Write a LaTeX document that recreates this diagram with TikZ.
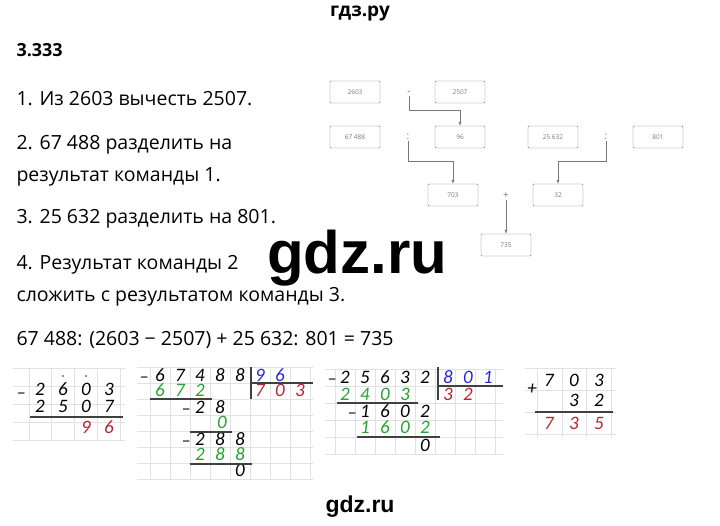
\documentclass[tikz,border=0pt]{standalone}
\usepackage{fontspec}
\setmainfont{Open Sans}
\newfontfamily\digfont{Carlito}
\newfontfamily\wmfont{Liberation Sans}
\usetikzlibrary{positioning,arrows.meta}

\definecolor{boxgray}{RGB}{120,120,120}
\definecolor{gridgray}{RGB}{225,225,225}
\definecolor{dgreen}{RGB}{40,160,50}
\definecolor{dred}{RGB}{185,35,50}
\definecolor{dblue}{RGB}{40,40,210}

\tikzset{
    txt/.style={anchor=base west, font=\fontsize{19.5}{22}\selectfont},
    box/.style={draw=boxgray, rounded corners=1pt, minimum width=50pt, minimum height=22pt,
        text=boxgray, font=\fontsize{6.5}{7}\selectfont},
    op/.style={text=boxgray, font=\fontsize{10}{10}\selectfont, inner sep=1pt},
    arr/.style={draw=boxgray, -{Latex[length=4pt,width=3pt]}},
    dig/.style={font=\digfont\itshape\fontsize{19}{20}\selectfont, inner sep=0pt},
    rule/.style={line width=1.3pt, black!75},
}

\begin{document}
\begin{tikzpicture}[x=1pt,y=-1pt]
    \useasboundingbox (0,0) rectangle (720,525);

    % headings and text
    \node[font=\bfseries\fontsize{19}{22}\selectfont] (title) at (360,13) {гдз.ру};
    \node[txt, font=\bfseries\fontsize{18}{20}\selectfont] (num) at (13,56) {3.333};
    \node[txt] (t1) at (13,105) {1. Из 2603 вычесть 2507.};
    \node[txt] (t2) at (13,149) {2. 67 488 разделить на};
    \node[txt] (t2b) at (13,181) {результат команды 1.};
    \node[txt] (t3) at (13,223) {3. 25 632 разделить на 801.};
    \node[txt] (t4) at (13,269) {4. Результат команды 2};
    \node[txt] (t4b) at (13,301) {сложить с результатом команды 3.};
    \node[txt] (eq) at (13,345) {67 488: (2603 − 2507) + 25 632: 801 = 735};

    % scheme
    \node[box] (a) at (355,92) {2603};
    \node[box] (b) at (460,92) {2507};
    \node[op] (minus) at (409,93) {-};
    \node[box] (c) at (355,137) {67 488};
    \node[op] (div1) at (408,137) {:};
    \node[box] (d) at (460,137) {96};
    \node[box] (e) at (553,137) {25 632};
    \node[op] (div2) at (606,137) {:};
    \node[box] (f) at (658,137) {801};
    \node[box] (g) at (453,195) {703};
    \node[op] (plus) at (506,196) {+};
    \node[box] (h) at (558,195) {32};
    \node[box] (k) at (506,245) {735};
    \draw[arr] (minus.south) -- ++(0,14) -| (d.north);
    \draw[arr] (div1.south) -- ++(0,20) -| (g.north);
    \draw[arr] (div2.south) -- ++(0,20) -| (h.north);
    \draw[arr] (plus.south) -- (k.north);

    % watermarks
    \node[font=\wmfont\bfseries\fontsize{60}{62}\selectfont] (wm) at (357,258) {gdz.ru};
    \node[font=\wmfont\bfseries\fontsize{23}{25}\selectfont] (wm2) at (360,507) {gdz.ru};

    % 2603 - 2507
    \foreach \yy in {368,386,404,422,440} \draw[gridgray] (13,\yy) -- (125,\yy);
    \foreach \xx in {29,51,74,97,120} \draw[gridgray] (\xx,368) -- (\xx,440);
    \foreach \d [count=\i from 0] in {2,6,0,3} \node[dig] at (40+23*\i,389) {\d};
    \foreach \d [count=\i from 0] in {2,5,0,7} \node[dig] at (40+23*\i,406) {\d};
    \foreach \d [count=\i from 2] in {9,6} \node[dig, text=dred] at (40+23*\i,427) {\d};
    \fill[dgreen] (63,376) circle (1.1) (86,376) circle (1.1);
    \node[dig] at (22,393) {\_};
    \draw[rule] (30,417) -- (123,417);

    % 67488 : 96
    \foreach \yy in {367,383,399,415,431,447,463,479} \draw[gridgray] (137,\yy) -- (313,\yy);
    \foreach \xx in {150,170,190,210,230,250,270,290,310} \draw[gridgray] (\xx,367) -- (\xx,479);
    \foreach \d [count=\i from 0] in {6,7,4,8,8} \node[dig] at (160+20*\i,375) {\d};
    \foreach \d [count=\i from 5] in {9,6} \node[dig, text=dblue] at (160+20*\i,375) {\d};
    \foreach \d [count=\i from 0] in {6,7,2} \node[dig, text=dgreen] at (160+20*\i,390) {\d};
    \foreach \d [count=\i from 5] in {7,0,3} \node[dig, text=dred] at (160+20*\i,390) {\d};
    \foreach \d [count=\i from 2] in {2,8} \node[dig] at (160+20*\i,407) {\d};
    \node[dig, text=dgreen] at (222,422) {0};
    \foreach \d [count=\i from 2] in {2,8,8} \node[dig] at (160+20*\i,439) {\d};
    \foreach \d [count=\i from 2] in {2,8,8} \node[dig, text=dgreen] at (160+20*\i,454) {\d};
    \node[dig] at (240,470) {0};
    \node[dig] at (145,377) {\_};
    \node[dig] at (187,409) {\_};
    \node[dig] at (187,441) {\_};
    \draw[rule] (150,399) -- (212,399);
    \draw[rule] (190,432) -- (232,432);
    \draw[rule] (190,464) -- (252,464);
    \draw[rule] (251,367) -- (251,399);
    \draw[rule] (251,383) -- (313,383);

    % 25632 : 801
    \foreach \yy in {369,386,403,420,437,454} \draw[gridgray] (325,\yy) -- (503,\yy);
    \foreach \xx in {335,355,375,395,415,435,455,475,495} \draw[gridgray] (\xx,369) -- (\xx,454);
    \foreach \d [count=\i from 0] in {2,5,6,3,2} \node[dig] at (345+20*\i,377) {\d};
    \foreach \d [count=\i from 0] in {8,0,1} \node[dig, text=dblue] at (448+20*\i,377) {\d};
    \foreach \d [count=\i from 0] in {2,4,0,3} \node[dig, text=dgreen] at (345+20*\i,394) {\d};
    \foreach \d [count=\i from 0] in {3,2} \node[dig, text=dred] at (448+20*\i,394) {\d};
    \foreach \d [count=\i from 1] in {1,6,0,2} \node[dig] at (345+20*\i,411) {\d};
    \foreach \d [count=\i from 1] in {1,6,0,2} \node[dig, text=dgreen] at (345+20*\i,427) {\d};
    \node[dig] at (425,445) {0};
    \node[dig] at (333,379) {\_};
    \node[dig] at (353,413) {\_};
    \draw[rule] (337,403) -- (418,403);
    \draw[rule] (357,437) -- (440,437);
    \draw[rule] (438,367) -- (438,400);
    \draw[rule] (438,386) -- (503,386);

    % 703 + 32
    \foreach \yy in {368,390,412,434} \draw[gridgray] (525,\yy) -- (616,\yy);
    \foreach \xx in {537,562,586,611} \draw[gridgray] (\xx,368) -- (\xx,438);
    \foreach \d [count=\i from 0] in {7,0,3} \node[dig] at (549+25*\i,380) {\d};
    \foreach \d [count=\i from 1] in {3,2} \node[dig] at (549+25*\i,400) {\d};
    \foreach \d [count=\i from 0] in {7,3,5} \node[dig, text=dred] at (549+25*\i,423) {\d};
    \node[dig] at (532,389) {+};
    \draw[rule] (535,412) -- (613,412);
\end{tikzpicture}
\end{document}
